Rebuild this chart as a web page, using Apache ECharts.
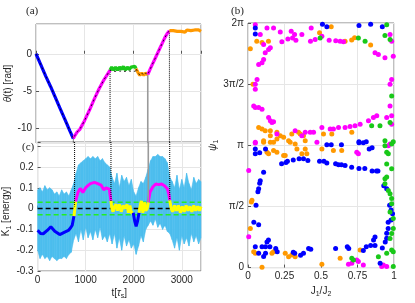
<!DOCTYPE html>
<html><head><meta charset="utf-8">
<script src="https://cdn.jsdelivr.net/npm/echarts@6/dist/echarts.min.js"></script>
<style>html,body{margin:0;padding:0;background:#fff}#c{width:415px;height:303px}</style>
</head><body><div id="c"></div>
<script>
// ---------- Panel (a): theta(t) [rad] ----------
const thetaBlue = [[0,0],[100,-1.5],[200,-3.0],[300,-4.4],[400,-5.9],[500,-7.4],[600,-8.9],[700,-10.4],[769,-11.4]];
const thetaMag1 = [[769,-11.4],[800,-11.0],[850,-10.5],[900,-10.2],[1000,-9.0],[1100,-7.6],[1200,-6.1],[1300,-4.7],[1400,-3.5],[1526,-2.2]];
const thetaGreen = [[1526,-2.2],[1560,-1.8],[1600,-2.2],[1640,-1.8],[1680,-2.2],[1720,-1.8],[1760,-2.1],[1800,-1.7],[1840,-2.2],[1880,-1.8],[1920,-2.1],[1960,-1.8],[2000,-2.0],[2040,-1.7],[2060,-2.0]];
const thetaBlackFlat = [[1526,-2.2],[1600,-2.4],[1700,-2.3],[1800,-2.4],[1900,-2.3],[2000,-2.4],[2060,-2.3]];
const thetaOrange1 = [[2060,-2.0],[2100,-2.5],[2140,-2.9],[2180,-2.6],[2220,-2.9],[2260,-2.6],[2303,-2.8]];
const thetaMag2 = [[2303,-2.8],[2350,-2.1],[2400,-1.4],[2450,-0.7],[2500,0.0],[2550,0.7],[2600,1.4],[2650,2.1],[2700,2.7],[2749,3.1]];
const thetaOrange2 = [[2749,3.1],[2790,2.9],[2830,3.1],[2870,2.9],[2910,3.0],[2950,2.8],[2990,3.0],[3030,3.1],[3070,2.9],[3110,3.2],[3150,3.0],[3190,3.1],[3230,2.9],[3270,3.2],[3310,3.0],[3350,3.2],[3400,3.0]];

// switching times and where the dotted guide lines end
const switchT = [769, 1526, 2303, 2749];
const switchTheta = [-11.4, -2.2, -2.8, 3.1];
const switchK = [0.01, 0.037, 0.03, 0.04];
const switchColor = ['#000', '#000', '#9a9a9a', '#000'];

// ---------- Panel (c): K_1 [energy] ----------
const bandT = [0,50,100,150,200,250,300,350,400,450,500,550,600,650,700,750,
  800,850,900,950,1000,1050,1100,1150,1200,1250,1300,1350,1400,1450,1500,
  1550,1600,1650,1700,1750,1800,1850,1900,1950,2000,2050,2100,2150,2200,2250,2300,
  2350,2400,2450,2500,2550,2600,2650,2700,2750,
  2800,2850,2900,2950,3000,3050,3100,3150,3200,3250,3300,3350,3400];
const bandUpper = [0.09,0.10,0.08,0.11,0.09,0.10,0.09,0.07,0.08,0.06,0.09,0.07,0.08,0.06,0.09,0.12,
  0.17,0.21,0.22,0.23,0.24,0.25,0.24,0.25,0.24,0.25,0.23,0.24,0.22,0.21,0.20,
  0.15,0.12,0.17,0.10,0.16,0.13,0.15,0.11,0.14,0.08,0.06,0.10,0.13,0.12,0.15,0.19,
  0.23,0.25,0.25,0.26,0.25,0.25,0.24,0.22,0.15,
  0.13,0.10,0.16,0.09,0.14,0.10,0.17,0.12,0.09,0.15,0.12,0.14,0.13];
const bandLower = [-0.20,-0.24,-0.22,-0.24,-0.23,-0.25,-0.23,-0.24,-0.25,-0.24,-0.24,-0.23,-0.24,-0.22,-0.21,-0.15,
  -0.12,-0.16,-0.10,-0.15,-0.09,-0.14,-0.11,-0.15,-0.10,-0.14,-0.09,-0.15,-0.13,-0.16,-0.12,
  -0.17,-0.12,-0.19,-0.14,-0.20,-0.13,-0.18,-0.15,-0.19,-0.17,-0.22,-0.18,-0.13,-0.16,-0.10,-0.08,
  -0.06,-0.08,-0.05,-0.09,-0.07,-0.10,-0.08,-0.11,-0.12,
  -0.15,-0.19,-0.14,-0.20,-0.13,-0.17,-0.14,-0.18,-0.12,-0.16,-0.13,-0.17,-0.14];

const kBlue1 = [[0,-0.104],[60,-0.12],[117,-0.121],[200,-0.105],[275,-0.087],[357,-0.109],[460,-0.125],[563,-0.113],[640,-0.105],[687,-0.092],[720,-0.08],[756,-0.036]];
const kYellow1 = [[756,-0.036],[770,-0.01],[790,0.035]];
const kMag1 = [[790,0.035],[839,0.078],[887,0.097],[942,0.078],[1000,0.1],[1045,0.11],[1100,0.12],[1182,0.126],[1250,0.12],[1320,0.113],[1375,0.09],[1423,0.10],[1491,0.093],[1526,0.037]];
const kYellow2 = [[1526,0.037],[1545,0.0],[1570,-0.015],[1600,0.01],[1630,0.02],[1660,-0.01],[1700,0.02],[1740,-0.015],[1780,0.015],[1820,0.0],[1860,0.02],[1890,-0.02],[1920,0.015],[1950,-0.02],[1990,-0.02]];
const kBlue2 = [[1990,-0.02],[2020,-0.06],[2050,-0.085],[2080,-0.06],[2110,-0.02]];
const kYellow3 = [[2110,-0.02],[2140,0.02],[2160,0.037],[2190,-0.02],[2220,0.03],[2250,-0.01],[2280,0.0],[2303,0.03]];
const kMag2 = [[2303,0.03],[2340,0.08],[2400,0.105],[2459,0.118],[2520,0.115],[2580,0.118],[2640,0.11],[2700,0.095],[2730,0.07],[2749,0.04]];
const kYellow4 = [[2749,0.04],[2780,0.0],[2810,-0.015],[2850,0.015],[2890,-0.01],[2930,0.015],[2970,-0.02],[3010,0.01],[3050,-0.015],[3090,0.015],[3130,-0.01],[3170,0.01],[3210,-0.015],[3250,0.015],[3290,-0.01],[3330,0.01],[3370,-0.01],[3400,0.01]];
const zeroLevel = 0;
const thresholdLevels = [0.03, -0.03];

// ---------- Panel (b): psi_1 (units of pi) vs J1/J2 ----------
const ptsBlue = [[0.05,1.96],[0.05,1.91],[0.51,1.99],[0.54,1.97],[0.76,1.98],[0.84,1.99],[0.92,1.97],
  [0.54,1.005],[0.57,1.005],[0.64,1.005],[0.76,1.03],[0.79,1.02],[0.81,1.03],[0.76,1.02],[0.83,0.97],[0.85,0.98],
  [0.05,0.93],[0.05,0.97],[0.08,0.94],[0.12,0.97],
  [0.23,0.85],[0.26,0.86],[0.27,0.87],[0.31,0.88],[0.35,0.89],[0.38,0.89],[0.41,0.875],[0.49,0.87],[0.52,0.87],[0.54,0.856],[0.60,0.85],[0.62,0.84],[0.64,0.84],[0.665,0.835],[0.71,0.82],[0.76,0.81],[0.80,0.81],[0.85,0.79],[0.88,0.79],[0.89,0.79],
  [0.107,0.78],[0.084,0.71],[0.073,0.645],[0.068,0.62],[0.08,0.69],[0.055,0.51],[0.04,0.37],[0.073,0.35],
  [0.93,0.67],[0.95,0.645],[0.97,0.51],[0.98,0.47],[0.99,0.44],[0.98,0.39],[0.96,0.37],[0.96,0.32],[0.95,0.28],[0.95,0.24],[0.94,0.21],[0.92,0.16],[0.87,0.25],[0.86,0.225],[0.87,0.18],[0.84,0.18],[0.81,0.17],[0.79,0.14],[0.69,0.157],[0.68,0.17],[0.60,0.157],
  [0.43,0.15],[0.415,0.157],[0.38,0.117],[0.36,0.10],[0.32,0.117],[0.31,0.125],[0.2,0.13],[0.19,0.157],[0.15,0.17],[0.14,0.225],[0.13,0.21],[0.12,0.17],[0.096,0.17],[0.073,0.117],[0.05,0.17],[0.107,0.09],[0.12,0.117],[0.905,0.035]];
const ptsOrange = [[0.016,1.79],[0.06,1.85],[0.096,1.84],[0.14,1.85],[0.49,1.92],[0.57,1.97],[0.665,1.85],[0.71,1.86],[0.73,1.88],[0.84,1.82],[0.034,1.50],
  [0.073,1.146],[0.096,1.133],[0.118,1.119],[0.153,1.119],[0.198,1.106],[0.221,1.079],[0.244,1.065],[0.30,1.092],[0.346,1.106],[0.358,1.092],[0.38,1.079],[0.392,1.038],[0.278,1.038],[0.198,1.051],[0.153,1.079],[0.107,1.024],[0.175,1.024],[0.517,1.092],[0.574,1.092],[0.711,1.106],
  [0.107,1.038],[0.153,1.024],[0.175,0.957],[0.244,0.916],[0.255,0.916],[0.289,1.024],[0.323,1.011],[0.335,0.97],[0.369,0.93],[0.392,0.97],[0.403,0.93],[0.506,0.97],[0.585,0.957],[0.642,0.957],[0.198,0.943],[0.13,0.943],[0.141,0.93],
  [0.027,0.55],[0.023,0.537],[0.016,0.32],[0.039,0.13],[0.05,0.117],[0.164,0.117],[0.175,0.13],[0.255,0.117],[0.278,0.089],[0.30,0.103],[0.323,0.089],[0.506,0.027],[0.631,0.076],[0.768,0.144],[0.096,0.003]];
const ptsMagenta = [[0.05,1.986],[0.084,1.905],[0.13,1.959],[0.175,1.959],[0.221,1.927],[0.232,1.846],[0.273,1.87],[0.296,1.932],[0.305,1.878],[0.328,1.859],[0.319,1.905],[0.369,1.905],[0.433,1.959],[0.428,1.851],[0.46,1.865],[0.506,1.892],[0.556,1.859],[0.601,1.854],[0.631,1.851],[0.654,1.846],[0.87,1.756],[0.893,1.743],[0.938,1.715],[0.973,1.905],[0.984,1.851],[0.995,1.729],[0.984,1.539],[0.973,1.499],
  [0.107,1.824],[0.141,1.783],[0.153,1.797],[0.118,1.756],[0.107,1.702],[0.096,1.675],[0.073,1.661],[0.062,1.539],[0.05,1.499],[0.05,1.458],[0.039,1.322],[0.05,1.309],[0.073,1.309],[0.096,1.295],[0.141,1.228],[0.153,1.201],[0.164,1.187],[0.175,1.192],
  [0.973,1.322],[0.984,1.241],[0.984,1.173],[0.95,1.228],[0.882,1.241],[0.859,1.228],[0.825,1.201],[0.768,1.173],[0.733,1.16],[0.699,1.154],[0.665,1.146],[0.62,1.146],[0.585,1.133],[0.563,1.133],[0.506,1.146],[0.449,1.106],[0.426,1.106],[0.392,1.106],[0.369,1.079],[0.323,1.119],[0.198,1.092],[0.05,1.019],
  [0.05,1.024],[0.472,1.024],[0.745,0.943],[0.756,0.93],[0.961,0.997],[0.973,1.011],[0.005,0.794],[0.005,0.252],[0.688,0.027],[0.711,0.035],[0.745,0.062],[0.756,0.049],[0.79,0.022],[0.916,0.008],[0.95,0.008],[0.927,0.022]];
const ptsGreen = [[0.494,1.878],[0.756,1.878],[0.802,1.851],[0.95,1.986],[0.938,1.897],[0.973,1.865],[0.984,1.404],[0.973,1.187],[0.847,1.16],[0.904,1.16],[0.938,1.038],[0.984,1.011],[0.995,1.03],
  [0.938,0.997],[0.95,0.943],[0.961,0.93],[0.95,0.848],[0.984,0.808],[0.938,0.726],[0.95,0.74],[0.938,0.686],[0.961,0.631],[0.973,0.604],[0.984,0.564],[0.984,0.523],[0.973,0.455],[0.995,0.401],[0.995,0.32],[0.984,0.279],[0.973,0.238],[0.984,0.144],[0.995,0.13],[0.995,0.008],[0.711,0.076],[0.722,0.062],[0.893,0.089],[0.95,0.117]];

const psiTickLabels = {0:'0', 0.5:'π/2', 1:'π', 1.5:'3π/2', 2:'2π'};

// ---------- colours ----------
const C = {blue:'#0000ff', mag:'#ff00ff', green:'#19c819', orange:'#ff9900', yellow:'#ffff00', band:'#4dbeee', dgreen:'#22ee22'};

const FONT = 'Liberation Sans';
const TXT = '#262626';
const chart = echarts.init(document.getElementById('c'), null, {renderer:'canvas'});

function gridCfg(l,t,w,h){return {left:l, top:t, width:w, height:h, show:true, borderColor:'#808080', borderWidth:1, backgroundColor:'transparent'};}
const axisCommon = {
  axisLine:{show:false},
  axisTick:{inside:true, length:3, lineStyle:{color:'#555', width:1}},
  splitLine:{show:true, lineStyle:{color:'#e6e6e6', width:1}},
  axisLabel:{fontSize:10, color:TXT, fontFamily:FONT, margin:4}
};
const richBase = {
  i:{fontStyle:'italic', fontSize:10, fontFamily:FONT, color:TXT},
  sub:{fontSize:7, fontFamily:FONT, color:TXT, padding:[6,0,0,0]}
};
function nameStyle(){return {fontSize:10, fontFamily:FONT, color:TXT, rich:richBase};}

function lineS(x, y, data, color, width, extra){
  return Object.assign({type:'line', xAxisIndex:x, yAxisIndex:y, data:data, symbol:'none', silent:true,
    lineStyle:{color:color, width:width}, itemStyle:{color:color}}, extra||{});
}

const series = [];
// panel (a)
[[thetaBlue,C.blue],[thetaMag1,C.mag],[thetaGreen,C.green],[thetaOrange1,C.orange],[thetaMag2,C.mag],[thetaOrange2,C.orange]]
  .forEach(([d,c]) => series.push(lineS(0,0,d,c,3.2)));
series.push(lineS(0,0,[].concat(thetaBlue,thetaMag1,thetaBlackFlat,thetaOrange1,thetaMag2),'#000',0.8,{lineStyle:{color:'#000',width:0.8,type:[2,3]}}));
switchT.forEach((t,i) => {
  const ls = {color:switchColor[i], width:i===2?1.6:1, type:i===2?'solid':'dotted'};
  series.push(lineS(0,0,[[t,switchTheta[i]],[t,-12]],switchColor[i],1,{lineStyle:ls, z:1}));
  series.push(lineS(1,1,[[t,0.32],[t,switchK[i]]],switchColor[i],1,{lineStyle:ls, z:5}));
});
// panel (c) fluctuating band, drawn as polygons between lower and upper envelope
series.push({
  type:'custom', xAxisIndex:1, yAxisIndex:1, silent:true, z:2, clip:true,
  data: bandT.map((t,i)=>[t, bandLower[i], bandUpper[i]]),
  encode:{x:0, y:[1,2]},
  renderItem:function(params, api){
    const i = params.dataIndex;
    if (i >= bandT.length - 1) return null;
    const pts = [
      api.coord([bandT[i], bandLower[i]]), api.coord([bandT[i+1], bandLower[i+1]]),
      api.coord([bandT[i+1], bandUpper[i+1]]), api.coord([bandT[i], bandUpper[i]])
    ];
    return {type:'polygon', shape:{points:pts}, style:{fill:C.band, stroke:C.band, lineWidth:0.6}};
  }
});
// dashed levels
series.push(lineS(1,1,[[0,zeroLevel],[3400,zeroLevel]],'#000',1.5,{lineStyle:{color:'#000',width:1.5,type:[5,3]}, z:3}));
thresholdLevels.forEach(v => series.push(lineS(1,1,[[0,v],[3400,v]],C.dgreen,1.5,{lineStyle:{color:C.dgreen,width:1.5,type:[5,3]}, z:3})));
[[kBlue1,C.blue],[kYellow1,C.yellow],[kMag1,C.mag],[kYellow2,C.yellow],[kBlue2,C.blue],[kYellow3,C.yellow],[kMag2,C.mag],[kYellow4,C.yellow]]
  .forEach(([d,c]) => series.push(lineS(1,1,d,c,3,{z:4})));
// panel (b)
[[ptsOrange,C.orange],[ptsMagenta,C.mag],[ptsBlue,C.blue],[ptsGreen,C.green]].forEach(([d,c]) =>
  series.push({type:'scatter', xAxisIndex:2, yAxisIndex:2, data:d, symbol:'circle', symbolSize:5, silent:true, itemStyle:{color:c, opacity:1}}));

const option = {
  animation:false,
  backgroundColor:'#fff',
  grid:[gridCfg(36,24,165,119), gridCfg(36,142,165,129), gridCfg(248,23,146,246)],
  xAxis:[
    Object.assign({}, axisCommon, {gridIndex:0, type:'value', min:0, max:3400, interval:1000, axisLabel:{show:false}}),
    Object.assign({}, axisCommon, {gridIndex:1, type:'value', min:0, max:3400, interval:1000,
      axisLabel:Object.assign({}, axisCommon.axisLabel, {showMaxLabel:false, formatter:v => String(v)}),
      name:'t[{i|τ}{sub|s}]', nameLocation:'middle', nameGap:16, nameTextStyle:nameStyle()}),
    Object.assign({}, axisCommon, {gridIndex:2, type:'value', min:0, max:1, interval:0.25,
      axisLabel:Object.assign({}, axisCommon.axisLabel, {formatter:v => String(v)}),
      name:'J{sub|1}/J{sub|2}', nameLocation:'middle', nameGap:16, nameTextStyle:nameStyle()})
  ],
  yAxis:[
    Object.assign({}, axisCommon, {gridIndex:0, type:'value', min:-12, max:4, splitNumber:3,
      axisLabel:Object.assign({}, axisCommon.axisLabel, {showMinLabel:false, showMaxLabel:false}),
      name:'{i|θ}(t) [rad]', nameLocation:'middle', nameGap:12, nameTextStyle:nameStyle()}),
    Object.assign({}, axisCommon, {gridIndex:1, type:'value', min:-0.3, max:0.32, interval:0.1,
      axisLabel:Object.assign({}, axisCommon.axisLabel, {formatter:v => v > 0.25 ? '' : String(+v.toFixed(1))}),
      name:'K{sub|1} [energy]', nameLocation:'middle', nameGap:16, nameTextStyle:Object.assign(nameStyle(), {padding:[0,0,0,-10]})}),
    Object.assign({}, axisCommon, {gridIndex:2, type:'value', min:0, max:2, interval:0.5,
      axisLabel:Object.assign({}, axisCommon.axisLabel, {formatter:v => psiTickLabels[v] || ''}),
      name:'{i|ψ}{sub|1}', nameLocation:'middle', nameGap:27, nameTextStyle:nameStyle()})
  ],
  graphic:[
    {type:'text', left:26, top:6, style:{text:'(a)', font:'11px "Liberation Serif"', fill:'#222'}},
    {type:'text', left:231, top:6, style:{text:'(b)', font:'11px "Liberation Serif"', fill:'#222'}},
    {type:'text', left:22, top:142, style:{text:'(c)', font:'11px "Liberation Serif"', fill:'#222'}, z:100}
  ],
  series:series
};
chart.setOption(option);
</script>
</body></html>
